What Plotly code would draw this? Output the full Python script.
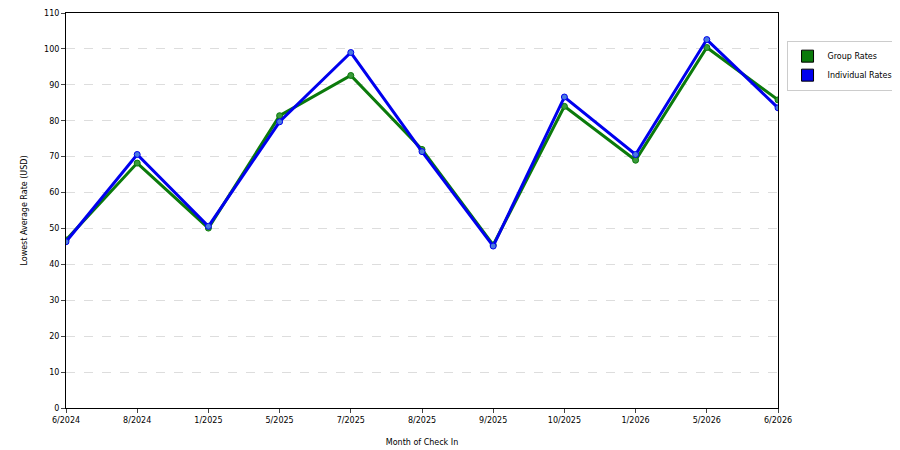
import plotly.graph_objects as go

# months and rates
months = ["6/2024", "8/2024", "1/2025", "5/2025", "7/2025", "8/2025",
          "9/2025", "10/2025", "1/2026", "5/2026", "6/2026"]
group_rates = [46.8, 68.2, 50.1, 81.4, 92.6, 72.0, 45.4, 84.0, 69.0, 100.4, 85.8]
individual_rates = [46.3, 70.6, 50.6, 79.7, 99.0, 71.4, 45.1, 86.6, 70.6, 102.6, 83.6]

fig = go.Figure()
fig.add_trace(go.Scatter(x=months, y=group_rates, name="Group Rates",
                         mode="lines+markers", showlegend=False,
                         line=dict(color="#0b7a0b", width=3),
                         marker=dict(size=6, color="#3a9a3a", line=dict(color="#0b7a0b", width=1))))
fig.add_trace(go.Scatter(x=months, y=individual_rates, name="Individual Rates",
                         mode="lines+markers", showlegend=False,
                         line=dict(color="#0000ee", width=3),
                         marker=dict(size=6, color="#4a7ae0", line=dict(color="#0000ee", width=1))))
# square swatches for the legend
for name, col in [("Group Rates", "#0b7a0b"), ("Individual Rates", "#0000ee")]:
    fig.add_trace(go.Scatter(x=[None], y=[None], name=name, mode="markers",
                             marker=dict(symbol="square", size=12, color=col,
                                         line=dict(color="black", width=1))))

fig.update_layout(
    width=900, height=450,
    margin=dict(l=58, r=130, t=5, b=50, autoexpand=False),
    plot_bgcolor="white", paper_bgcolor="white",
    font=dict(family="DejaVu Sans", size=8, color="black"),
    legend=dict(x=1.012, y=0.93, xanchor="left", yanchor="top",
                bordercolor="#cccccc", borderwidth=1, font=dict(size=8)),
    xaxis=dict(title=dict(text="Month of Check In", font=dict(size=8)),
               type="category", range=[0, 10], showline=True, linecolor="black",
               mirror=True, ticks="outside", ticklen=4, showgrid=False, automargin=False),
    yaxis=dict(title=dict(text="Lowest Average Rate (USD)", font=dict(size=8)),
               range=[0, 110], dtick=10, showline=True, linecolor="black",
               mirror=True, ticks="outside", ticklen=4, automargin=False,
               gridcolor="#dddddd", griddash="dash", zeroline=False),
)

fig.write_html("out.html")
